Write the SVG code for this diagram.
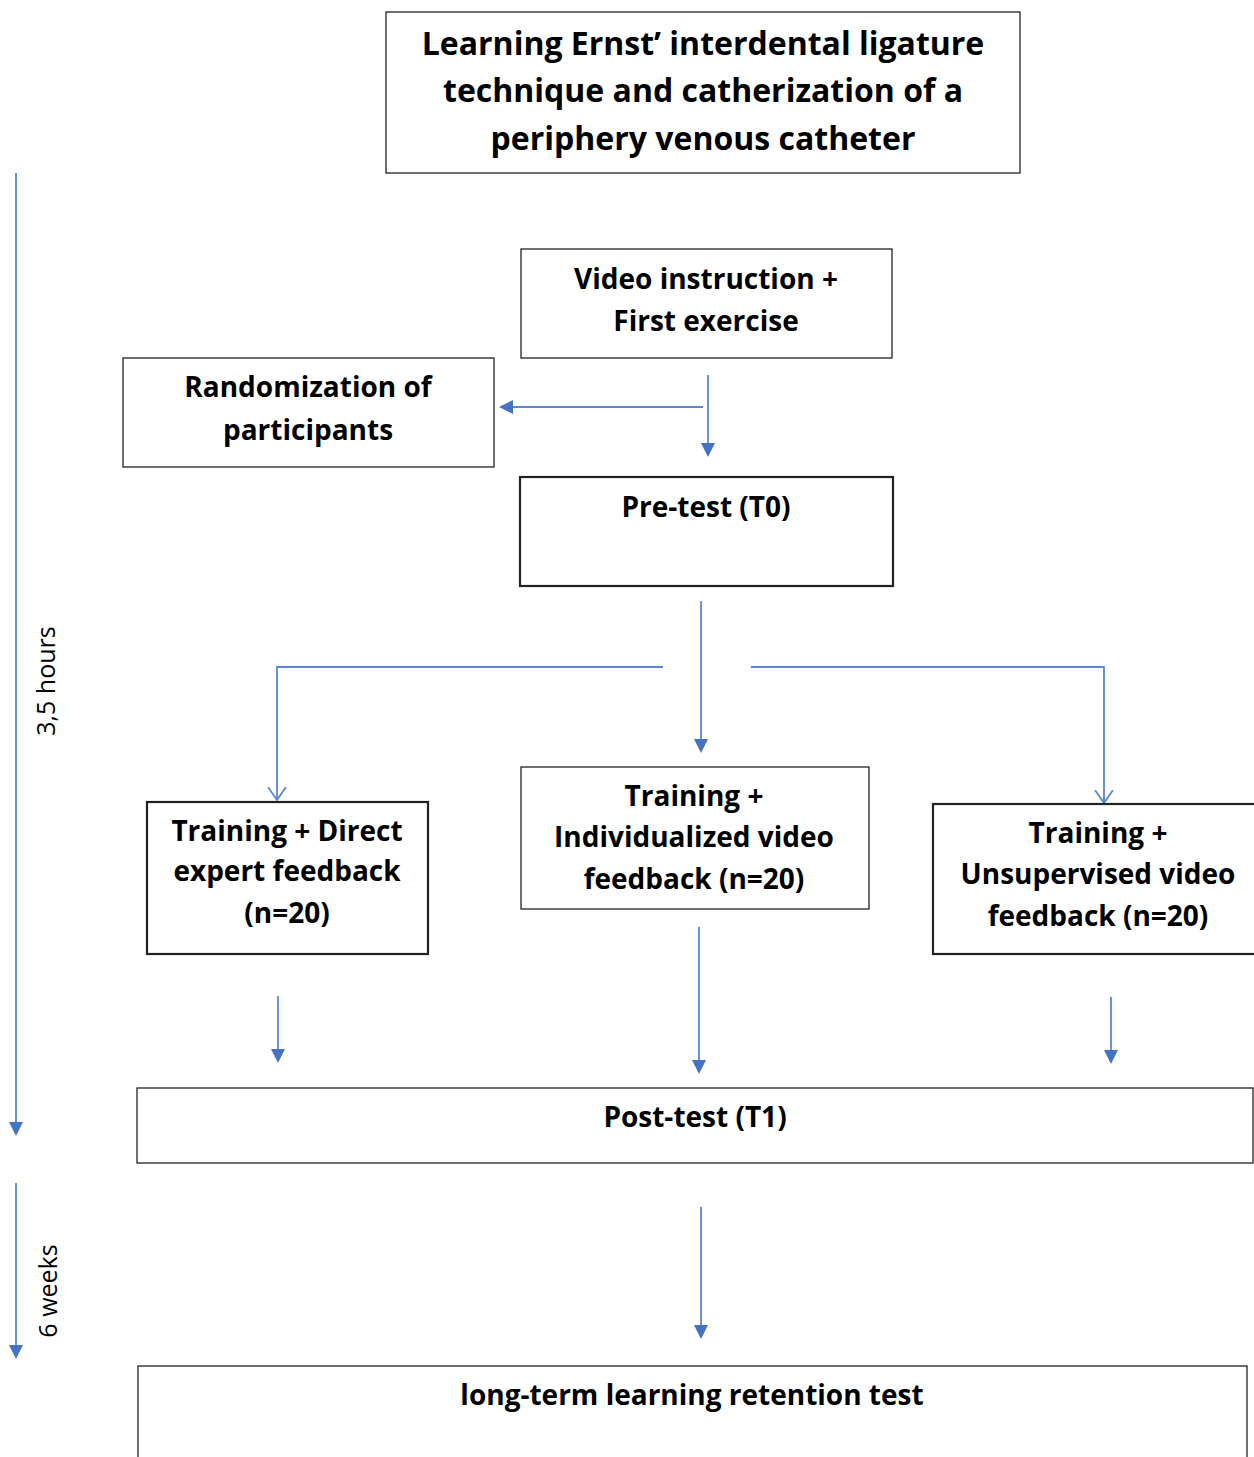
<svg xmlns="http://www.w3.org/2000/svg" width="1254" height="1457" viewBox="0 0 1254 1457">
<style>
.box{fill:#fff;stroke:#222;stroke-width:1.3}
.thick{stroke-width:2.2}
.t{font-family:"Open Sans","Liberation Sans",sans-serif;font-weight:bold;font-size:28px;fill:#000;text-anchor:middle}
.title{font-size:32px}
.side{font-family:"Open Sans","Liberation Sans",sans-serif;font-size:25px;fill:#000;text-anchor:middle}
.c{fill:none;stroke:#5b86d4;stroke-width:1.8}
</style>
<defs>
<marker id="tri" markerWidth="14" markerHeight="14" refX="12" refY="7" orient="auto" markerUnits="userSpaceOnUse">
<path d="M0,0 L14,7 L0,14 Z" fill="#4472c4"/>
</marker>
<marker id="vee" markerWidth="14" markerHeight="20" refX="13" refY="10" orient="auto" markerUnits="userSpaceOnUse">
<path d="M0,1 L13,10 L0,19" fill="none" stroke="#5b86d4" stroke-width="1.8"/>
</marker>
</defs>
<rect width="1254" height="1457" fill="#fff"/>
<g id="connectors">
<line class="c" x1="16" y1="173" x2="16" y2="1134" marker-end="url(#tri)"/>
<line class="c" x1="16" y1="1183" x2="16" y2="1357" marker-end="url(#tri)"/>
<line class="c" x1="708" y1="375" x2="708" y2="455" marker-end="url(#tri)"/>
<line class="c" x1="703" y1="407" x2="501" y2="407" marker-end="url(#tri)"/>
<line class="c" x1="701" y1="601" x2="701" y2="751" marker-end="url(#tri)"/>
<polyline class="c" points="663,667 277,667 277,800" marker-end="url(#vee)"/>
<polyline class="c" points="751,667 1104,667 1104,803" marker-end="url(#vee)"/>
<line class="c" x1="278" y1="996" x2="278" y2="1061" marker-end="url(#tri)"/>
<line class="c" x1="699" y1="927" x2="699" y2="1072" marker-end="url(#tri)"/>
<line class="c" x1="1111" y1="997" x2="1111" y2="1062" marker-end="url(#tri)"/>
<line class="c" x1="701" y1="1207" x2="701" y2="1337" marker-end="url(#tri)"/>
</g>
<g id="label-hours"><text class="side" transform="translate(55,681) rotate(-90)">3,5 hours</text></g>
<g id="label-weeks"><text class="side" transform="translate(57,1291) rotate(-90)">6 weeks</text></g>
<g id="title">
<rect class="box" x="386" y="12" width="634" height="161"/>
<text class="t title" x="703" y="55">Learning Ernst’ interdental ligature</text>
<text class="t title" x="703" y="102">technique and catherization of a</text>
<text class="t title" x="703" y="150">periphery venous catheter</text>
</g>
<g id="video">
<rect class="box" x="521" y="249" width="371" height="109"/>
<text class="t" x="706" y="289">Video instruction +</text>
<text class="t" x="706" y="331">First exercise</text>
</g>
<g id="random">
<rect class="box" x="123" y="358" width="371" height="109"/>
<text class="t" x="308" y="397">Randomization of</text>
<text class="t" x="308" y="440">participants</text>
</g>
<g id="pretest">
<rect class="box thick" x="520" y="477" width="373" height="109"/>
<text class="t" x="706" y="517">Pre-test (T0)</text>
</g>
<g id="direct">
<rect class="box thick" x="147" y="802" width="281" height="152"/>
<text class="t" x="287" y="841">Training + Direct</text>
<text class="t" x="287" y="881">expert feedback</text>
<text class="t" x="287" y="923">(n=20)</text>
</g>
<g id="individual">
<rect class="box" x="521" y="767" width="348" height="142"/>
<text class="t" x="694" y="806">Training +</text>
<text class="t" x="694" y="847">Individualized video</text>
<text class="t" x="694" y="889">feedback (n=20)</text>
</g>
<g id="unsupervised">
<rect class="box thick" x="933" y="804" width="330" height="150"/>
<text class="t" x="1098" y="843">Training +</text>
<text class="t" x="1098" y="884">Unsupervised video</text>
<text class="t" x="1098" y="926">feedback (n=20)</text>
</g>
<g id="posttest">
<rect class="box" x="137" y="1088" width="1116" height="75"/>
<text class="t" x="695" y="1127">Post-test (T1)</text>
</g>
<g id="retention">
<rect class="box" x="138" y="1366" width="1109" height="100"/>
<text class="t" x="692" y="1405">long-term learning retention test</text>
</g>
</svg>
